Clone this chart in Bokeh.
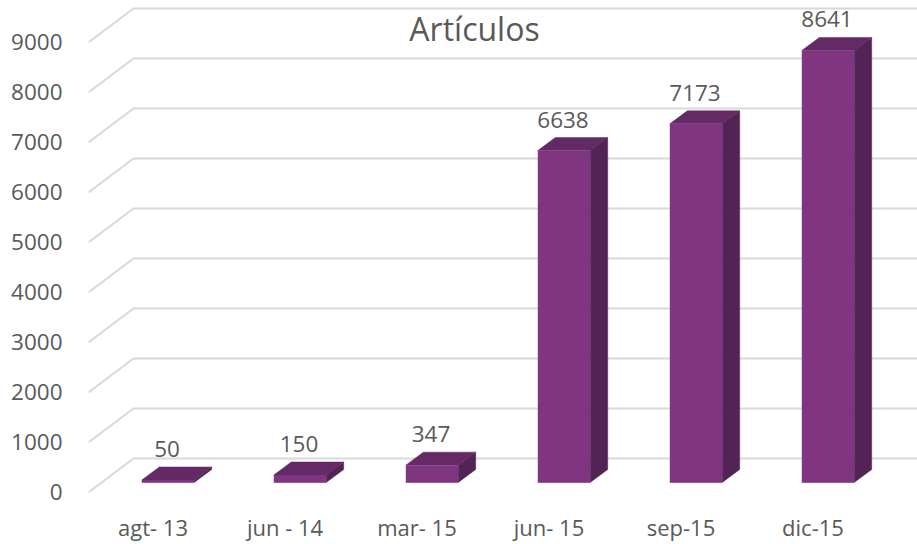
from bokeh.core.properties import value
from bokeh.embed import file_html
from bokeh.models import ColumnDataSource, FixedTicker, LinearAxis, Range1d
from bokeh.plotting import figure
from bokeh.resources import INLINE

# Chart data
title_text = "Artículos"
categories = ["agt- 13", "jun - 14", "mar- 15", "jun- 15", "sep-15", "dic-15"]
articles = [50, 150, 347, 6638, 7173, 8641]
y_ticks = [0, 1000, 2000, 3000, 4000, 5000, 6000, 7000, 8000, 9000]

# Styling
FONT = "Open Sans"
TEXT = "#595959"
GRID = "#D9D9D9"
FRONT = "#7F3580"
SIDE = "#522455"
TOP = "#632A66"
EDGE = "#9A5A9C"

WIDTH, HEIGHT = 917, 544
LEFT, BOTTOM = 88, 38
PX_X = 132.0      # pixels per category
PX_Y = 0.05       # pixels per article
X0 = 167.5        # pixel centre of the first bar
Y0 = 482          # pixel row of value zero on the bar's front plane
frame_h = HEIGHT - BOTTOM

# Bar geometry in data units
half_w = 26.2 / PX_X
depth_x = 17.5 / PX_X
depth_y = 13 / PX_Y

# Wall: front edge and back edge of the floor/wall grid, relative to the bar plane
wall_front_x = (88 - X0) / PX_X
wall_back_x = (133 - X0) / PX_X
wall_end_x = (WIDTH - X0) / PX_X
wall_front_dy = -10 / PX_Y
wall_back_dy = 24 / PX_Y

x_start = (LEFT - X0) / PX_X
x_end = (WIDTH - X0) / PX_X
y_end = Y0 / PX_Y
y_start = (Y0 - frame_h) / PX_Y

p = figure(
    width=WIDTH, height=HEIGHT,
    x_range=Range1d(x_start, x_end), y_range=Range1d(y_start, y_end),
    output_backend="svg", toolbar_location=None, x_axis_location=None, y_axis_location=None,
    min_border_left=LEFT, min_border_right=0, min_border_top=0, min_border_bottom=BOTTOM,
    background_fill_color="white", border_fill_color="white", outline_line_color=None,
)
p.grid.visible = False

# Separate scales so the tick labels sit where the front of the chart's floor is
label_shift_x = -15 / PX_X
p.extra_x_ranges["labels"] = Range1d(x_start - label_shift_x, x_end - label_shift_x)
label_shift_y = -9 / PX_Y
p.extra_y_ranges["labels"] = Range1d(y_start - label_shift_y, y_end - label_shift_y)

y_axis = LinearAxis(
    y_range_name="labels", ticker=FixedTicker(ticks=y_ticks),
    axis_line_color=None, major_tick_line_color=None, minor_tick_line_color=None,
    major_tick_out=0, major_tick_in=0, minor_tick_out=0, minor_tick_in=0,
    major_label_standoff=26, major_label_text_font=FONT, major_label_text_font_size="22.5px",
    major_label_text_color=TEXT,
)
p.add_layout(y_axis, "left")

x_axis = LinearAxis(
    x_range_name="labels", ticker=FixedTicker(ticks=list(range(len(categories)))),
    major_label_overrides={i: c for i, c in enumerate(categories)},
    axis_line_color=None, major_tick_line_color=None, minor_tick_line_color=None,
    major_tick_out=0, major_tick_in=0, minor_tick_out=0, minor_tick_in=0,
    major_label_standoff=5, major_label_text_font=FONT, major_label_text_font_size="22px",
    major_label_text_color=TEXT,
)
p.add_layout(x_axis, "below")

# Wall gridlines with their perspective returns
p.multi_line(
    xs=[[wall_front_x, wall_back_x, wall_end_x] for _ in y_ticks],
    ys=[[t + wall_front_dy, t + wall_back_dy, t + wall_back_dy] for t in y_ticks],
    line_color=GRID, line_width=2,
)

# Bars: front, side and top faces
lefts = [i - half_w for i in range(len(articles))]
rights = [i + half_w for i in range(len(articles))]

side = ColumnDataSource(dict(
    xs=[[r, r + depth_x, r + depth_x, r] for r in rights],
    ys=[[0, depth_y, v + depth_y, v] for v in articles],
))
top = ColumnDataSource(dict(
    xs=[[l, r, r + depth_x, l + depth_x] for l, r in zip(lefts, rights)],
    ys=[[v, v, v + depth_y, v + depth_y] for v in articles],
))
p.patches("xs", "ys", source=side, fill_color=SIDE, line_color=SIDE, line_width=0.5)
p.patches("xs", "ys", source=top, fill_color=TOP, line_color=TOP, line_width=0.5)
p.quad(left=lefts, right=rights, bottom=0, top=articles,
       fill_color=FRONT, line_color=None)
p.segment(x0=lefts, y0=[0] * len(articles), x1=rights, y1=[0] * len(articles),
          line_color=EDGE, line_width=1)

# Value labels above each bar
gap = 18 / PX_Y
p.text(
    x=[i - 1 / PX_X for i in range(len(articles))],
    y=[v + depth_y + gap for v in articles],
    text=[str(v) for v in articles],
    text_font=value(FONT), text_font_size="22.5px", text_color=TEXT,
    text_align="center", text_baseline="middle",
)

# Chart heading
p.text(
    x=[(474 - X0) / PX_X], y=[(Y0 - 28) / PX_Y], text=[title_text],
    text_font=value(FONT), text_font_size="32px", text_color=TEXT,
    text_align="center", text_baseline="middle",
)

open("out.html", "w").write(file_html(p, INLINE))
